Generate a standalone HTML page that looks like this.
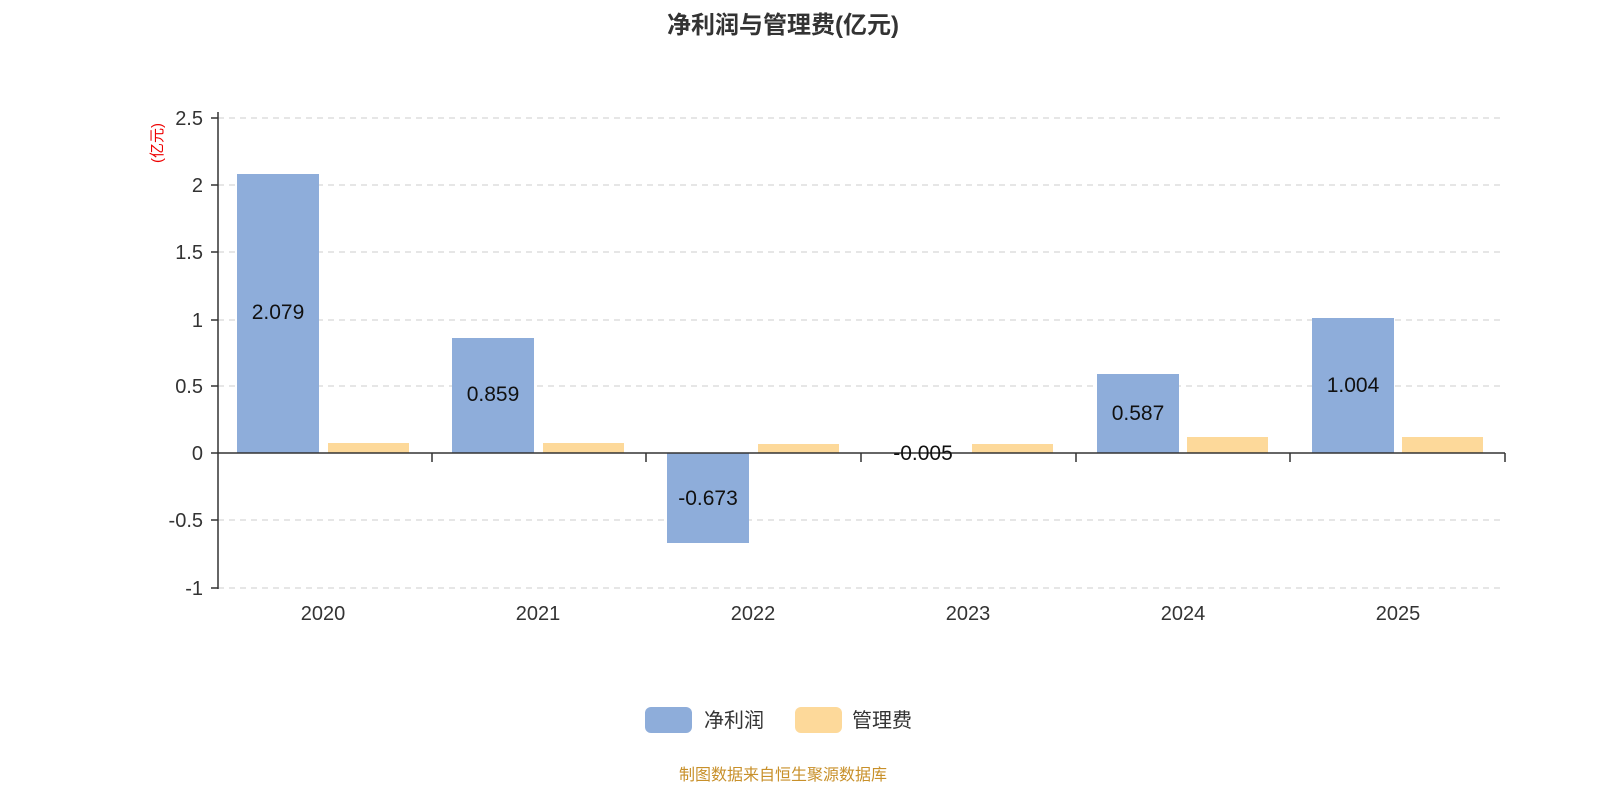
<!DOCTYPE html>
<html><head><meta charset="utf-8"><style>
html,body{margin:0;padding:0;background:#fff;}
svg{display:block;font-family:"Liberation Sans","Noto Sans CJK SC",sans-serif;}
</style></head><body>
<svg width="1600" height="800" viewBox="0 0 1600 800" xmlns="http://www.w3.org/2000/svg">
<text x="783" y="33" text-anchor="middle" font-size="24" font-weight="bold" fill="#333">净利润与管理费(亿元)</text>
<g stroke="#ccc" stroke-width="1" stroke-dasharray="6,5">
<line x1="218" y1="118" x2="1505" y2="118"/>
<line x1="218" y1="185" x2="1505" y2="185"/>
<line x1="218" y1="252" x2="1505" y2="252"/>
<line x1="218" y1="320" x2="1505" y2="320"/>
<line x1="218" y1="386" x2="1505" y2="386"/>
<line x1="218" y1="520" x2="1505" y2="520"/>
<line x1="218" y1="588" x2="1505" y2="588"/>
</g>
<g fill="#8eadda">
<rect x="237" y="174" width="82" height="279"/>
<rect x="452" y="338" width="82" height="115"/>
<rect x="667" y="453" width="82" height="90"/>
<rect x="1097" y="374" width="82" height="79"/>
<rect x="1312" y="318" width="82" height="135"/>
</g>
<g fill="#fdd99a">
<rect x="328" y="443" width="81" height="10"/>
<rect x="543" y="443" width="81" height="10"/>
<rect x="758" y="444" width="81" height="9"/>
<rect x="972" y="444" width="81" height="9"/>
<rect x="1187" y="437" width="81" height="16"/>
<rect x="1402" y="437" width="81" height="16"/>
</g>
<g stroke="#333" stroke-width="1.5">
<line x1="218" y1="112" x2="218" y2="589"/>
<line x1="218" y1="453" x2="1505" y2="453"/>
<line x1="211" y1="118" x2="218" y2="118"/>
<line x1="211" y1="185" x2="218" y2="185"/>
<line x1="211" y1="252" x2="218" y2="252"/>
<line x1="211" y1="320" x2="218" y2="320"/>
<line x1="211" y1="386" x2="218" y2="386"/>
<line x1="211" y1="453" x2="218" y2="453"/>
<line x1="211" y1="520" x2="218" y2="520"/>
<line x1="211" y1="588" x2="218" y2="588"/>
<line x1="432" y1="453" x2="432" y2="462"/>
<line x1="646" y1="453" x2="646" y2="462"/>
<line x1="861" y1="453" x2="861" y2="462"/>
<line x1="1076" y1="453" x2="1076" y2="462"/>
<line x1="1290" y1="453" x2="1290" y2="462"/>
<line x1="1505" y1="453" x2="1505" y2="462"/>
</g>
<g font-size="20" fill="#333" text-anchor="end">
<text x="203" y="125">2.5</text>
<text x="203" y="192">2</text>
<text x="203" y="259">1.5</text>
<text x="203" y="327">1</text>
<text x="203" y="393">0.5</text>
<text x="203" y="460">0</text>
<text x="203" y="527">-0.5</text>
<text x="203" y="595">-1</text>
</g>
<g font-size="20" fill="#333" text-anchor="middle">
<text x="323" y="620">2020</text>
<text x="538" y="620">2021</text>
<text x="753" y="620">2022</text>
<text x="968" y="620">2023</text>
<text x="1183" y="620">2024</text>
<text x="1398" y="620">2025</text>
</g>
<g font-size="21" fill="#111" text-anchor="middle">
<text x="278" y="319">2.079</text>
<text x="493" y="401">0.859</text>
<text x="708" y="505">-0.673</text>
<text x="923" y="460">-0.005</text>
<text x="1138" y="420">0.587</text>
<text x="1353" y="392">1.004</text>
</g>
<text transform="translate(162,143) rotate(-90)" text-anchor="middle" font-size="15" fill="#e00">(亿元)</text>
<rect x="645" y="707" width="47" height="26" rx="6" fill="#8eadda"/>
<text x="704" y="727" font-size="20" fill="#333">净利润</text>
<rect x="795" y="707" width="47" height="26" rx="6" fill="#fdd99a"/>
<text x="852" y="727" font-size="20" fill="#333">管理费</text>
<text x="783" y="780" text-anchor="middle" font-size="16" fill="#c8902a">制图数据来自恒生聚源数据库</text>
</svg>
</body></html>
